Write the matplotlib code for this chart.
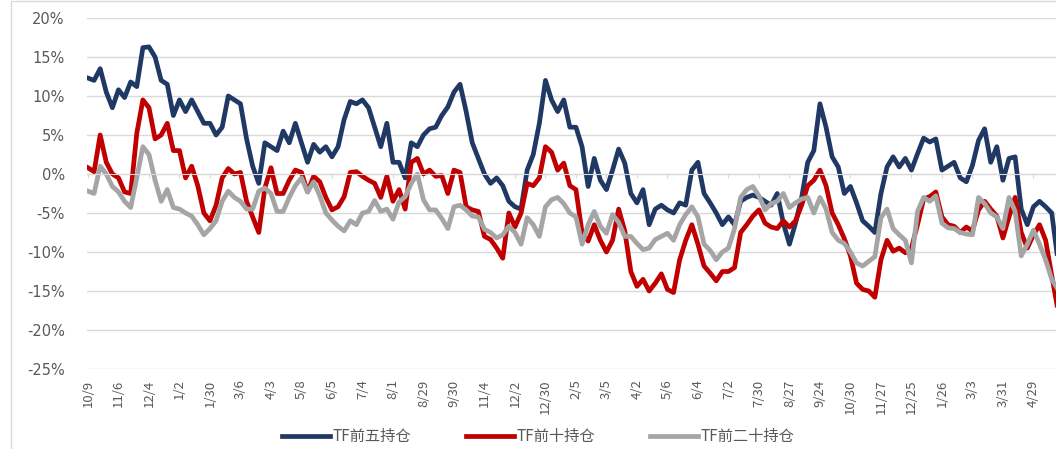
import numpy as np
import matplotlib
matplotlib.use("Agg")
import matplotlib.pyplot as plt
from matplotlib.patches import Rectangle

# 持仓占比 (%), sampled every 4 trading days
top5 = [12.3, 12.0, 13.5, 10.5, 8.5, 10.8, 9.8, 11.8, 11.2, 16.2,
        16.3, 15.0, 12.0, 11.5, 7.5, 9.5, 8.0, 9.5, 8.0, 6.5,
        6.5, 5.0, 6.0, 10.0, 9.5, 9.0, 4.5, 1.0, -1.2, 4.0,
        3.5, 3.0, 5.5, 4.0, 6.5, 4.0, 1.5, 3.8, 2.8, 3.5,
        2.2, 3.5, 7.0, 9.3, 9.0, 9.5, 8.5, 6.0, 3.5, 6.5,
        1.5, 1.5, -0.5, 4.0, 3.5, 5.0, 5.8, 6.0, 7.5, 8.6,
        10.5, 11.5, 8.0, 4.0, 2.0, 0.0, -1.2, -0.5, -1.5, -3.5,
        -4.2, -4.5, 0.5, 2.5, 6.5, 12.0, 9.5, 8.0, 9.5, 6.0,
        6.0, 3.5, -1.6, 2.0, -0.8, -2.0, 0.5, 3.2, 1.4, -2.5,
        -3.7, -2.0, -6.5, -4.5, -4.0, -4.6, -5.0, -3.7, -4.0, 0.5,
        1.5, -2.5, -3.7, -5.0, -6.5, -5.5, -6.5, -3.5, -3.0, -2.7,
        -3.0, -3.5, -4.0, -2.5, -6.3, -9.0, -6.3, -3.0, 1.5, 3.0,
        9.0, 6.0, 2.2, 0.9, -2.5, -1.6, -3.7, -6.0, -6.7, -7.5,
        -2.5, 0.9, 2.2, 0.9, 2.0, 0.5, 2.6, 4.6, 4.1, 4.5,
        0.5, 1.0, 1.5, -0.5, -1.0, 1.1, 4.3, 5.8, 1.5, 3.5,
        -0.8, 2.0, 2.2, -4.5, -6.5, -4.2, -3.5, -4.2, -5.0, -11.0]

top10 = [0.8, 0.3, 5.0, 1.5, 0.0, -0.5, -2.3, -2.5, 5.2, 9.5,
         8.5, 4.5, 5.0, 6.5, 3.0, 3.0, -0.5, 1.0, -1.5, -5.0,
         -6.0, -4.0, -0.5, 0.7, 0.0, 0.2, -3.5, -5.5, -7.5, -1.8,
         0.8, -2.5, -2.5, -0.8, 0.5, 0.2, -2.3, -0.3, -1.0, -3.0,
         -4.6, -4.2, -2.9, 0.2, 0.3, -0.3, -0.8, -1.2, -3.0, -0.3,
         -3.5, -2.0, -4.5, 1.5, 2.0, 0.0, 0.5, -0.3, -0.2, -2.5,
         0.5, 0.2, -4.2, -4.6, -4.8, -8.0, -8.4, -9.5, -10.8, -5.0,
         -6.8, -5.0, -1.2, -1.5, -0.5, 3.5, 2.8, 0.5, 1.4, -1.5,
         -2.0, -7.5, -8.6, -6.5, -8.5, -10.0, -8.5, -4.5, -7.3, -12.5,
         -14.4, -13.5, -15.0, -14.0, -12.8, -14.8, -15.2, -11.0, -8.5, -6.5,
         -9.0, -11.8, -12.7, -13.7, -12.5, -12.5, -12.0, -7.5, -6.5, -5.4,
         -4.6, -6.3, -6.8, -7.0, -6.0, -6.8, -6.0, -4.0, -1.5, -0.8,
         0.5, -1.5, -5.0, -6.5, -8.3, -10.5, -14.0, -14.8, -15.0, -15.8,
         -11.0, -8.5, -9.9, -9.5, -10.1, -9.5, -6.5, -3.2, -2.9, -2.3,
         -5.5, -6.5, -6.7, -7.5, -6.8, -7.3, -4.6, -3.5, -4.5, -5.4,
         -8.2, -5.5, -3.0, -7.5, -9.5, -7.8, -6.5, -8.5, -13.0, -17.4]

top20 = [-2.2, -2.5, 1.0, 0.0, -1.6, -2.3, -3.5, -4.3, -0.5, 3.5,
         2.5, -0.8, -3.5, -2.0, -4.3, -4.5, -5.0, -5.4, -6.5, -7.8,
         -7.0, -6.0, -3.5, -2.2, -3.0, -3.5, -4.5, -4.5, -2.2, -1.8,
         -2.5, -4.8, -4.8, -3.0, -1.5, -0.5, -2.3, -1.0, -2.8, -5.0,
         -5.9, -6.7, -7.3, -6.0, -6.5, -5.0, -4.8, -3.4, -4.8, -4.5,
         -5.8, -3.6, -2.9, -1.2, 0.0, -3.3, -4.6, -4.6, -5.7, -7.0,
         -4.2, -4.0, -4.6, -5.4, -5.5, -7.1, -7.5, -8.2, -7.8, -6.7,
         -7.5, -9.0, -5.6, -6.5, -8.0, -4.2, -3.3, -3.0, -3.8, -5.0,
         -5.5, -9.0, -6.5, -4.8, -6.7, -7.6, -5.2, -6.2, -8.0, -8.0,
         -8.9, -9.7, -9.5, -8.4, -8.0, -7.6, -8.5, -6.5, -5.2, -4.2,
         -5.5, -9.0, -9.8, -11.0, -10.0, -9.5, -7.0, -3.0, -2.0, -1.6,
         -2.8, -4.6, -3.8, -3.5, -2.5, -4.3, -3.7, -3.2, -3.0, -5.0,
         -3.0, -4.5, -7.5, -8.5, -8.9, -10.0, -11.4, -11.8, -11.2, -10.6,
         -5.6, -4.5, -7.0, -7.8, -8.5, -11.4, -4.8, -3.0, -3.5, -2.8,
         -6.3, -6.9, -7.0, -7.5, -7.7, -7.8, -3.0, -3.8, -5.0, -5.5,
         -7.0, -3.0, -4.8, -10.5, -9.0, -7.2, -9.0, -11.0, -13.5, -14.8]

tick_labels = ["10/9", "11/6", "12/4", "1/2", "1/30", "3/6", "4/3", "5/8",
               "6/5", "7/4", "8/1", "8/29", "9/30", "11/4", "12/2", "12/30",
               "2/5", "3/5", "4/2", "5/6", "6/4", "7/2", "7/30", "8/27",
               "9/24", "10/30", "11/27", "12/25", "1/26", "3/3", "3/31", "4/29"]
tick_step = 5

series_names = ["TF前五持仓", "TF前十持仓", "TF前二十持仓"]
colors = ["#1F3864", "#C00000", "#A5A5A5"]

plt.rcParams["font.family"] = ["Noto Sans CJK SC", "DejaVu Sans"]

fig = plt.figure(figsize=(10.56, 4.49), dpi=100)
ax = fig.add_axes([87 / 1056, 1 - 369 / 449, (1056 - 87) / 1056, (369 - 18) / 449])

x = np.arange(len(top5))
for vals, name, c in zip([top5, top10, top20], series_names, colors):
    ax.plot(x, vals, color=c, lw=3.4, label=name, solid_joinstyle="round")

ax.set_xlim(-0.16, 158.7)
ax.set_ylim(-25, 20)
yt = list(range(-25, 21, 5))
ax.set_yticks(yt)
ax.set_yticklabels([f"{v}%" for v in yt], family="DejaVu Sans")
ax.set_xticks(np.arange(len(tick_labels)) * tick_step)
ax.set_xticklabels(tick_labels, family="DejaVu Sans")

ax.yaxis.grid(True, color="#D9D9D9", lw=1)
ax.set_axisbelow(True)
for s in ["top", "right", "left"]:
    ax.spines[s].set_visible(False)
ax.spines["bottom"].set_position(("data", 0))
ax.spines["bottom"].set_color("#D9D9D9")
ax.tick_params(axis="y", length=0, pad=16, labelsize=10.5, labelcolor="#595959")
ax.tick_params(axis="x", length=3, color="#D9D9D9", pad=145,
               labelrotation=90, labelsize=9.5, labelcolor="#595959")

fig.patches.append(Rectangle((11 / 1056, -0.1), 1.2, 1.1 - 1 / 449,
                             transform=fig.transFigure, fill=False,
                             edgecolor="#D9D9D9", lw=1))

fig.legend(loc="center", bbox_to_anchor=(0.51, 0.027), ncol=3, frameon=False,
           fontsize=11, labelcolor="#595959", handlelength=3.1,
           handletextpad=0.2, columnspacing=3.6)

fig.savefig("out.png", dpi=100)
